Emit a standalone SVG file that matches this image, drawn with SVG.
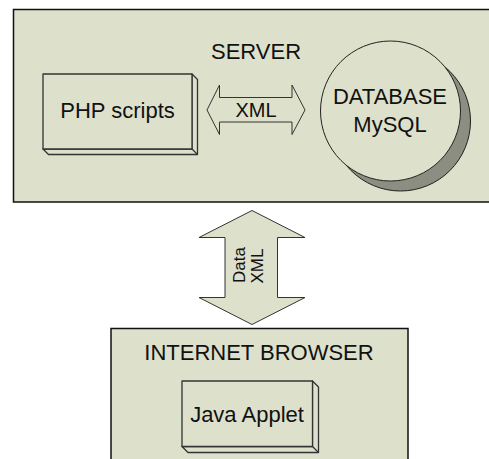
<svg xmlns="http://www.w3.org/2000/svg" width="489" height="459" viewBox="0 0 489 459">
<style>
.bg{fill:#dde0cb;stroke:#111;stroke-width:1.5}
.box{fill:#dde0cb;stroke:#333;stroke-width:1.3;stroke-linejoin:round}
.arr{fill:#dde0cb;stroke:#333;stroke-width:1;stroke-linejoin:miter}
.t{font-family:"Liberation Sans",Arial,sans-serif;font-size:22px;fill:#111;text-anchor:middle}
</style>
<rect width="489" height="459" fill="#ffffff"/>
<g id="server">
<rect class="bg" x="13.5" y="9.5" width="490" height="192.5"/>
<text class="t" x="256" y="59">SERVER</text>
</g>
<g id="php">
<polygon class="box" points="192,74 197.5,79.5 197.5,154.5 48.5,154.5 43,149 192,149"/>
<line x1="192" y1="149" x2="197.5" y2="154.5" stroke="#333" stroke-width="1.3"/>
<rect class="box" x="43" y="74" width="149" height="75"/>
<text class="t" x="117.5" y="117.5">PHP scripts</text>
</g>
<g id="database">
<circle cx="400.5" cy="121" r="70" fill="#8b8e80" stroke="#222" stroke-width="1"/>
<circle cx="390.5" cy="111" r="70" fill="#dde0cb" stroke="#222" stroke-width="1"/>
<text class="t" x="390" y="104">DATABASE</text>
<text class="t" x="390" y="131.5">MySQL</text>
</g>
<g id="browser">
<rect class="bg" x="111" y="328.5" width="297" height="140"/>
<text class="t" x="259" y="360">INTERNET BROWSER</text>
</g>
<g id="applet">
<polygon class="box" points="312.5,381 318.5,387 318.5,452.5 188,452.5 182,446.5 312.5,446.5"/>
<line x1="312.5" y1="446.5" x2="318.5" y2="452.5" stroke="#333" stroke-width="1.3"/>
<rect class="box" x="182" y="381" width="130.5" height="65.5"/>
<text class="t" x="247" y="421.5">Java Applet</text>
</g>
<g id="connectors">
<g id="xml-arrow">
<polygon class="arr" points="207,110 219.5,85 219.5,97.5 292,97.5 292,85 305,110 292,134.5 292,122 219.5,122 219.5,134.5"/>
<text class="t" x="256" y="116.5" style="font-size:20px">XML</text>
</g>
<g id="data-arrow">
<polygon class="arr" points="252,210.5 305,237.5 277.5,237.5 277.5,297.5 305,297.5 252,324.5 199,297.5 225,297.5 225,237.5 199,237.5"/>
<text class="t" transform="translate(244.5,265) rotate(-90)" style="font-size:17px">Data</text>
<text class="t" transform="translate(262.5,266) rotate(-90)" style="font-size:17px">XML</text>
</g>
</g>
</svg>
